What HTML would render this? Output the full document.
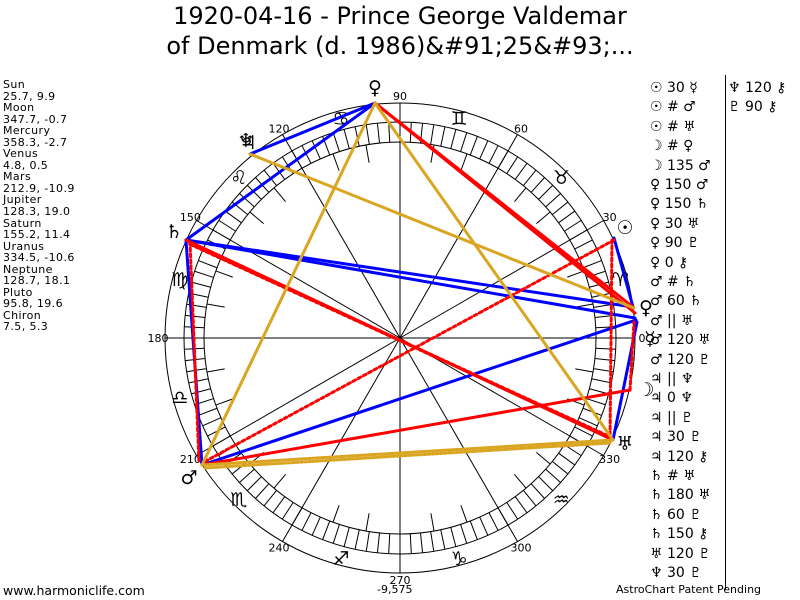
<!DOCTYPE html>
<html><head><meta charset="utf-8"><style>
body{margin:0;background:#fff;width:800px;height:600px;overflow:hidden;position:relative;font-family:"DejaVu Sans","Liberation Sans",sans-serif}
.t{position:absolute;left:0;width:800px;text-align:center;font-size:24px;color:#000}
#left{position:absolute;left:3px;top:79px;font-size:11px;line-height:11.55px;letter-spacing:0.4px}
.a{position:absolute;left:650px;font-size:14px;white-space:nowrap}
.b{position:absolute;font-size:11px}
</style></head><body>
<div class="t" style="top:2px">1920-04-16 - Prince George Valdemar</div>
<div class="t" style="top:32px">of Denmark (d. 1986)&amp;#91;25&amp;#93;...</div>
<div id="left">Sun<br>25.7, 9.9<br>Moon<br>347.7, -0.7<br>Mercury<br>358.3, -2.7<br>Venus<br>4.8, 0.5<br>Mars<br>212.9, -10.9<br>Jupiter<br>128.3, 19.0<br>Saturn<br>155.2, 11.4<br>Uranus<br>334.5, -10.6<br>Neptune<br>128.7, 18.1<br>Pluto<br>95.8, 19.6<br>Chiron<br>7.5, 5.3</div>
<svg id="s" width="800" height="600" style="position:absolute;left:0;top:0" xmlns="http://www.w3.org/2000/svg">
<g id="g" stroke="#000" fill="none" stroke-width="1">
<circle cx="400" cy="338" r="235"/>
<circle cx="400" cy="338" r="216"/>
<circle cx="400" cy="338" r="196"/>
</g>
<g id="lab" font-size="11" text-anchor="middle" font-family="DejaVu Sans,sans-serif"></g>
<g stroke-width="3" fill="none" stroke-linecap="round">
<line x1="375" y1="103" x2="250" y2="154" stroke="#0000ff"/>
<line x1="375" y1="103" x2="186" y2="240" stroke="#0000ff"/>
<line x1="186" y1="240" x2="633" y2="307" stroke="#0000ff"/>
<line x1="186" y1="240" x2="635" y2="318" stroke="#0000ff"/>
<line x1="186" y1="240" x2="202" y2="465" stroke="#0000ff"/>
<line x1="202" y1="465" x2="636" y2="320" stroke="#0000ff"/>
<line x1="614" y1="238" x2="633" y2="307" stroke="#0000ff"/>
<line x1="613" y1="440" x2="637" y2="322" stroke="#0000ff"/>
<line x1="375" y1="103" x2="633" y2="307" stroke="#ff0000"/>
<line x1="375" y1="103" x2="635" y2="313" stroke="#ff0000"/>
<line x1="186" y1="240" x2="613" y2="440" stroke="#ff0000"/>
<line x1="202" y1="465" x2="630" y2="390" stroke="#ff0000"/>
<line x1="190" y1="244" x2="610" y2="437" stroke="#ff0000" stroke-dasharray="3,3" stroke-width="3.5"/>
<line x1="614" y1="240" x2="204" y2="462" stroke="#ff0000" stroke-dasharray="3,3"/>
<line x1="612" y1="240" x2="610" y2="440" stroke="#ff0000" stroke-dasharray="3,3"/>
<line x1="630" y1="390" x2="634" y2="322" stroke="#ff0000" stroke-dasharray="3,3"/>
<line x1="190" y1="242" x2="199" y2="462" stroke="#ff0000" stroke-dasharray="3,3"/>
<line x1="375" y1="103" x2="202" y2="465" stroke="#daa520"/>
<line x1="375" y1="103" x2="613" y2="440" stroke="#daa520"/>
<line x1="250" y1="154" x2="634" y2="308" stroke="#daa520"/>
<line x1="202" y1="465" x2="613" y2="440" stroke="#daa520"/>
<line x1="205" y1="468" x2="610" y2="443" stroke="#daa520" stroke-dasharray="2,2"/>
</g>
<g font-size="19" text-anchor="middle" font-family="DejaVu Sans,sans-serif">
<text x="375" y="94">♀</text>
<text x="246" y="147">♆</text><text x="248" y="149">♃</text>
<text x="174" y="238">♄</text>
<text x="189" y="484">♂</text>
<text x="625" y="450">♅</text>
<text x="646" y="396">☽</text>
<text x="646" y="314">♀</text>
<text x="650" y="345">☿</text>
<text x="625" y="234">☉</text>
</g>
</svg>
<div class="b" style="left:3px;top:583px;font-size:12.5px">www.harmoniclife.com</div>
<div class="b" style="left:377px;top:583px">-9,575</div>
<div class="b" style="left:616px;top:583px">AstroChart Patent Pending</div>
<div style="position:absolute;left:725px;top:75px;width:1px;height:515px;background:#000"></div>
<div id="asp"></div>
<script>
var g=document.getElementById('g'),lab=document.getElementById('lab'),NS='http://www.w3.org/2000/svg';
function P(r,a){a=a*Math.PI/180;return[400+r*Math.cos(a),338-r*Math.sin(a)];}
function L(r1,r2,a){var p=P(r1,a),q=P(r2,a),l=document.createElementNS(NS,'line');l.setAttribute('x1',p[0]);l.setAttribute('y1',p[1]);l.setAttribute('x2',q[0]);l.setAttribute('y2',q[1]);g.appendChild(l);}
for(var a=0;a<360;a+=3)L(196,216,a);
for(var a=0;a<360;a+=30){L(0,235,a);var p=P(242,a),t=document.createElementNS(NS,'text');t.setAttribute('x',p[0]);t.setAttribute('y',p[1]+4);t.textContent=a;lab.appendChild(t);}
for(var a=0;a<360;a+=10)if(a%30)L(178,196,a);
var sg='♈♉♊♋♌♍♎♏♐♑♒♓';
for(var k=0;k<12;k++){if(k==11)continue;var p=P(228,15+30*k),t=document.createElementNS(NS,'text');t.setAttribute('x',p[0]);t.setAttribute('y',p[1]+7);t.setAttribute('font-size','19');t.textContent=sg[k];lab.appendChild(t);}
var rows=['☉ 30 ☿','☉ # ♂','☉ # ♅','☽ # ♀','☽ 135 ♂','♀ 150 ♂','♀ 150 ♄','♀ 30 ♅','♀ 90 ♇','♀ 0 ⚷','♂ # ♄','♂ 60 ♄','♂ || ♅','♂ 120 ♅','♂ 120 ♇','♃ || ♆','♃ 0 ♆','♃ || ♇','♃ 30 ♇','♃ 120 ⚷','♄ # ♅','♄ 180 ♅','♄ 60 ♇','♄ 150 ⚷','♅ 120 ♇','♆ 30 ♇'];
var h='';rows.forEach(function(r,i){h+='<div class="a" style="top:'+(80+i*19.4)+'px">'+r+'</div>';});
h+='<div class="a" style="left:728px;top:80px">♆ 120 ⚷</div><div class="a" style="left:728px;top:99px">♇ 90 ⚷</div>';
document.getElementById('asp').innerHTML=h;
</script>
</body></html>
